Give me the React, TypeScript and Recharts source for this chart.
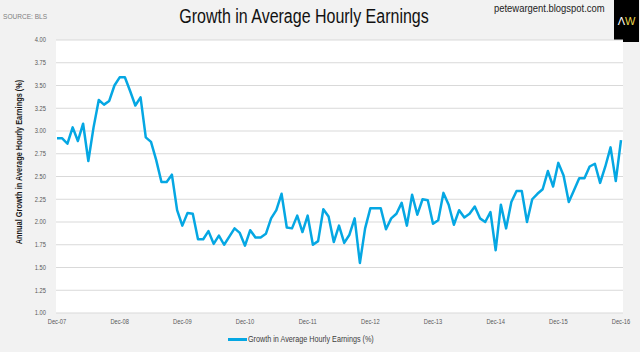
import React from 'react';
import { LineChart, Line, XAxis, YAxis, CartesianGrid, Legend } from 'recharts';

const MONTHS = ['Jan', 'Feb', 'Mar', 'Apr', 'May', 'Jun', 'Jul', 'Aug', 'Sep', 'Oct', 'Nov', 'Dec'];
const YEARS = ['07', '08', '09', '10', '11', '12', '13', '14', '15', '16'];
const X_TICKS = ['Dec-07', 'Dec-08', 'Dec-09', 'Dec-10', 'Dec-11', 'Dec-12', 'Dec-13', 'Dec-14', 'Dec-15', 'Dec-16'];
const Y_TICKS = [1, 1.25, 1.5, 1.75, 2, 2.25, 2.5, 2.75, 3, 3.25, 3.5, 3.75, 4];

const SERIES_NAME = 'Growth in Average Hourly Earnings (%)';
const EARNINGS = [
  2.92, 2.92, 2.86, 3.04, 2.89, 3.08, 2.67, 3.04, 3.34, 3.29, 3.33, 3.5, 3.59,
  3.59, 3.44, 3.28, 3.37, 2.93, 2.88, 2.68, 2.44, 2.44, 2.52, 2.13, 1.96,
  2.1, 2.09, 1.81, 1.81, 1.9, 1.76, 1.85, 1.75, 1.84, 1.93, 1.88, 1.74,
  1.91, 1.83, 1.83, 1.87, 2.04, 2.13, 2.31, 1.94, 1.93, 2.07, 1.89, 2.07,
  1.75, 1.79, 2.14, 2.06, 1.78, 1.96, 1.77, 1.86, 2.04, 1.55, 1.93, 2.15,
  2.15, 2.15, 1.92, 2.04, 2.09, 2.21, 1.96, 2.3, 2.08, 2.25, 2.24, 1.98,
  2.02, 2.32, 2.19, 1.97, 2.13, 2.05, 2.09, 2.17, 2.04, 2.0, 2.11, 1.69,
  2.19, 1.93, 2.22, 2.34, 2.34, 2.0, 2.25, 2.31, 2.36, 2.56, 2.39, 2.65,
  2.51, 2.22, 2.35, 2.48, 2.48, 2.61, 2.64, 2.43, 2.61, 2.82, 2.45, 2.9,
];

const CATEGORIES: string[] = ['Dec-07'];
for (let y = 1; y < YEARS.length; y++) {
  for (let m = 0; m < 12; m++) CATEGORIES.push(`${MONTHS[m]}-${YEARS[y]}`);
}

const data = EARNINGS.map((v, i) => ({ month: CATEGORIES[i], value: v }));

const FONT = '"Liberation Sans", Arial, sans-serif';
const NARROW = 0.82;
const LINE_COLOR = '#05a7e3';

const XTick = (props: any) => {
  const { x, y, payload } = props;
  return (
    <text
      transform={`translate(${x},${y}) scale(${NARROW},1)`}
      textAnchor="middle"
      dy="0.71em"
      style={{ fontFamily: FONT, fontSize: 7, fill: '#595959' }}
    >
      {payload.value}
    </text>
  );
};

const YTick = (props: any) => {
  const { x, y, payload } = props;
  return (
    <text
      transform={`translate(${x},${y}) scale(${NARROW},1)`}
      textAnchor="end"
      dy="0.355em"
      style={{ fontFamily: FONT, fontSize: 7, fill: '#595959' }}
    >
      {Number(payload.value).toFixed(2)}
    </text>
  );
};

const LegendContent = () => (
  <div style={{ position: 'relative', height: 14, fontFamily: FONT, fontSize: 8.8, color: '#404040' }}>
    <div style={{ position: 'absolute', left: 228, top: 6, width: 19, height: 2.5, background: LINE_COLOR }} />
    <div
      style={{
        position: 'absolute',
        left: 248,
        top: 1,
        whiteSpace: 'nowrap',
        lineHeight: '12px',
        transform: `scaleX(${NARROW})`,
        transformOrigin: 'left center',
      }}
    >
      {SERIES_NAME}
    </div>
  </div>
);

const YLabel = () => (
  <text
    transform={`translate(19,162) rotate(-90) scale(${NARROW},1)`}
    textAnchor="middle"
    dominantBaseline="central"
    style={{ fontFamily: FONT, fontSize: 9, fill: '#1a1a1a', fontWeight: 'bold' }}
  >
    Annual Growth in Average Hourly Earnings (%)
  </text>
);

export default function App() {
  return (
    <div style={{ position: 'relative', width: 640, height: 352, background: '#f2f2f2', overflow: 'hidden' }}>
      <style>{`body{margin:0}`}</style>
      <div
        style={{
          position: 'absolute', left: 3, top: 12, fontFamily: FONT, fontSize: 8, color: '#808080',
          whiteSpace: 'nowrap', transform: `scaleX(${NARROW})`, transformOrigin: 'left center',
        }}
      >
        SOURCE: BLS
      </div>
      <div
        style={{
          position: 'absolute', left: 104, top: 5, width: 400, textAlign: 'center', fontFamily: FONT,
          fontSize: 19.5, color: '#111', whiteSpace: 'nowrap', transform: `scaleX(${NARROW})`,
          transformOrigin: 'center center',
        }}
      >
        Growth in Average Hourly Earnings
      </div>
      <div
        style={{
          position: 'absolute', left: 494, top: 2, fontFamily: FONT, fontSize: 11.5, color: '#222',
          whiteSpace: 'nowrap', transform: `scaleX(${NARROW})`, transformOrigin: 'left center',
        }}
      >
        petewargent.blogspot.com
      </div>
      <div
        style={{
          position: 'absolute', left: 614, top: 0, width: 25, height: 42, background: '#000', display: 'flex',
          alignItems: 'center', justifyContent: 'center', fontFamily: FONT, fontSize: 11, whiteSpace: 'nowrap',
        }}
      >
        <span style={{ color: '#fff' }}>Λ</span>
        <span style={{ color: '#e8d44a' }}>W</span>
      </div>
      <div style={{ position: 'absolute', left: 0, top: 0 }}>
        <LineChart width={640} height={352} data={data} margin={{ top: 40, right: 17, bottom: 19, left: 0 }}>
          <CartesianGrid vertical={false} horizontal stroke="#d9d9d9" strokeWidth={1} fill="#ffffff" />
          <XAxis
            dataKey="month"
            ticks={X_TICKS}
            interval={0}
            height={20}
            axisLine={false}
            tickLine={false}
            tickSize={0}
            tickMargin={6}
            padding={{ left: 1, right: 2 }}
            tick={<XTick />}
          />
          <YAxis
            width={56}
            domain={[1, 4]}
            ticks={Y_TICKS}
            interval={0}
            axisLine={false}
            tickLine={false}
            tickSize={0}
            tickMargin={10}
            tick={<YTick />}
            label={<YLabel />}
          />
          <Legend
            layout="horizontal"
            verticalAlign="middle"
            wrapperStyle={{ position: 'absolute', left: 0, top: 332, width: 640, height: 14 }}
            content={<LegendContent />}
          />
          <Line
            type="linear"
            dataKey="value"
            name={SERIES_NAME}
            stroke={LINE_COLOR}
            strokeWidth={2.5}
            dot={false}
            strokeLinejoin="round"
            isAnimationActive={false}
          />
        </LineChart>
      </div>
    </div>
  );
}
